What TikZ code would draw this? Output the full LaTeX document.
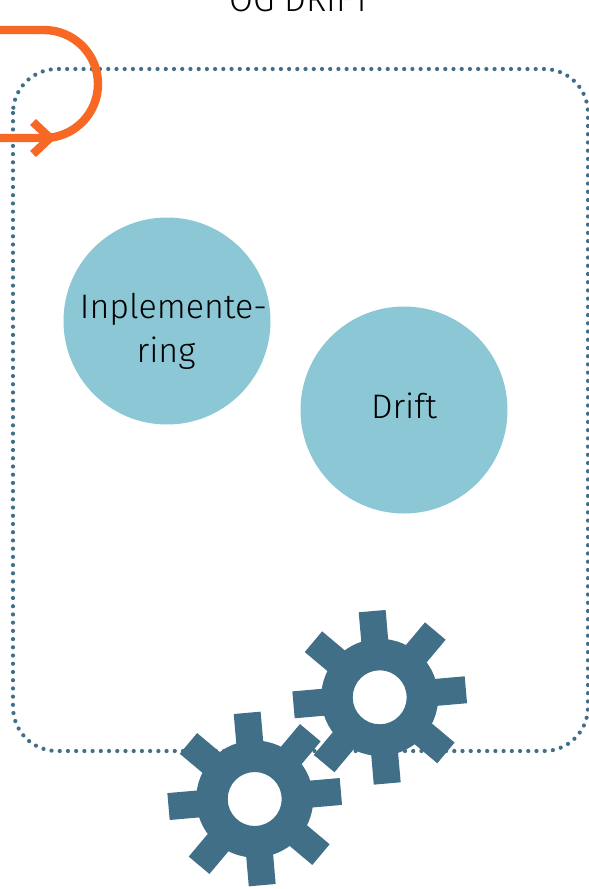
\documentclass[tikz,border=0pt]{standalone}
\usepackage{fontspec}
\setmainfont{Fira Sans Light}
\definecolor{gearblue}{HTML}{406F87}
\definecolor{discteal}{HTML}{8BC7D5}
\definecolor{loop}{HTML}{F76825}
\tikzset{
  disc/.style={circle,fill=discteal,minimum size=207pt,inner sep=0pt},
  disclabel/.style={align=center,inner sep=0pt,font=\fontsize{34}{44}\selectfont},
  zone/.style={draw=gearblue,line width=4.2pt,line cap=round,dash pattern=on 0pt off 8.22pt,rounded corners=44pt},
  loopline/.style={draw=loop,line width=8.4pt},
  gearpart/.style={fill=gearblue}
}
\newcommand{\gearat}[2]{%
  \fill[gearpart,even odd rule] (#1,#2) circle[radius=58.5pt] (#1,#2) circle[radius=27pt];
  \foreach \a in {5,50,...,320}{
    \fill[gearpart,shift={(#1,#2)},rotate=\a] (50pt,-13.5pt) rectangle (86.5pt,13.5pt);
  }%
}
\begin{document}
\begin{tikzpicture}[x=1pt,y=-1pt]
\useasboundingbox (0,0) rectangle (589,889);
\node[anchor=base,font=\fontsize{34.5}{44}\selectfont] (title) at (300,11) {OG DRIFT};
\draw[zone] (13,69) rectangle (588,751);
\node[disc] (impl) at (167,321) {};
\node[disclabel] (impltext) at (166,331) {\hspace*{15pt}Inplemente-\\ring};
\node[disc] (drift) at (404,410) {};
\node[disclabel] (drifttext) at (404,406) {Drift};
\coordinate (loopstart) at (-2,30);
\coordinate (loopend) at (-2,138);
\coordinate (tip) at (50,138);
\draw[loopline] (loopstart) -- (44,30) arc[start angle=90,end angle=-90,radius=54pt] -- (loopend);
\draw[loopline,line join=miter] (33,122) -- (tip) -- (33,154);
\gearat{254.7}{799}
\gearat{379.7}{697.3}
\end{tikzpicture}
\end{document}
